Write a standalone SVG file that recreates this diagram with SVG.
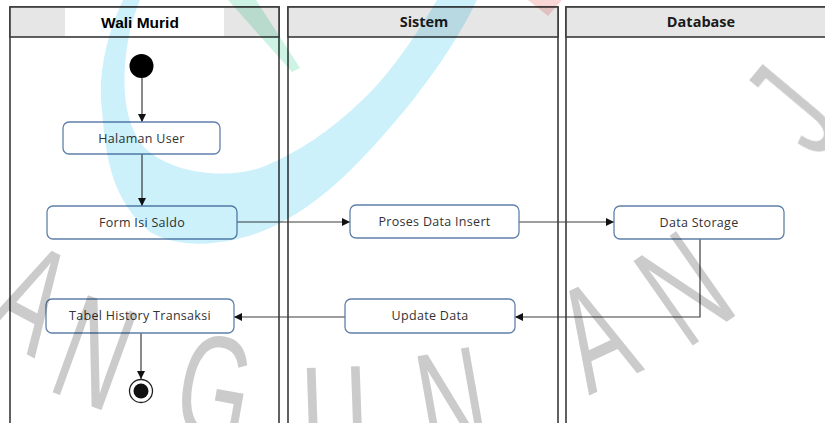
<svg xmlns="http://www.w3.org/2000/svg" width="825" height="423" viewBox="0 0 825 423">
  <defs>
    <marker id="arrow" viewBox="0 0 10 10" refX="10" refY="5" markerWidth="8" markerHeight="8" markerUnits="userSpaceOnUse" orient="auto">
      <path d="M0,0 L10,5 L0,10 Z" fill="#111"/>
    </marker>
    <style>
      .lane { fill: #ffffff; stroke: #3a3a3a; stroke-width: 1.6; }
      .head { fill: #e6e6e6; stroke: #3a3a3a; stroke-width: 1.6; }
      .htxt { font-family: "Open Sans", "Liberation Sans", sans-serif; font-weight: bold; font-size: 14.5px; fill: #1a1a1a; text-anchor: middle; }
      .node rect { fill: #ffffff; stroke: #5f80aa; stroke-width: 1.3; }
      .node text { font-family: "Open Sans", "Liberation Sans", sans-serif; font-size: 12.5px; fill: #333333; text-anchor: middle; letter-spacing: 0.3px; }
      .conn { fill: none; stroke: #3c3c3c; stroke-width: 1.2; }
      .wm text { font-family: "Liberation Sans", sans-serif; font-size: 150px; fill: #cbcbcb; text-anchor: middle; dominant-baseline: central; }
    </style>
  </defs>

  <rect x="0" y="0" width="825" height="423" fill="#ffffff"/>

  <!-- Swimlanes -->
  <g id="lane-wali-murid">
    <rect class="lane" x="10" y="7" width="269" height="430"/>
    <rect class="head" x="10" y="7" width="269" height="30"/>
    <rect x="65" y="8" width="159" height="28" fill="#ffffff"/>
    <text x="140" y="28" font-family="Liberation Sans, Arial, sans-serif" font-weight="bold" font-size="15.5" fill="#000" text-anchor="middle">Wali Murid</text>
  </g>
  <g id="lane-sistem">
    <rect class="lane" x="288" y="7" width="270" height="430"/>
    <rect class="head" x="288" y="7" width="270" height="30"/>
    <text class="htxt" x="424" y="27">Sistem</text>
  </g>
  <g id="lane-database">
    <rect class="lane" x="566" y="7" width="272" height="430"/>
    <rect class="head" x="566" y="7" width="272" height="30"/>
    <text class="htxt" x="701" y="27">Database</text>
  </g>

  <!-- Connectors -->
  <g id="connectors">
    <path class="conn" d="M142,78 L142,122" marker-end="url(#arrow)"/>
    <path class="conn" d="M142,154 L142,206" marker-end="url(#arrow)"/>
    <path class="conn" d="M237,222 L350,222" marker-end="url(#arrow)"/>
    <path class="conn" d="M519,222 L614,222" marker-end="url(#arrow)"/>
    <path class="conn" d="M700,239 L700,317 L515,317" stroke="#666" marker-end="url(#arrow)"/>
    <path class="conn" d="M345,317 L234,317" marker-end="url(#arrow)"/>
    <path class="conn" d="M141,333 L141,379" marker-end="url(#arrow)"/>
  </g>

  <!-- Nodes -->
  <g id="start">
    <circle cx="141.5" cy="66" r="12" fill="#000"/>
  </g>
  <g id="halaman-user" class="node">
    <rect x="63" y="122" width="157" height="32" rx="6"/>
    <text x="141.5" y="142.5">Halaman User</text>
  </g>
  <g id="form-isi-saldo" class="node">
    <rect x="47" y="206" width="190" height="33" rx="6"/>
    <text x="142" y="226.5">Form Isi Saldo</text>
  </g>
  <g id="tabel-history" class="node">
    <rect x="46" y="299" width="188" height="34" rx="6"/>
    <text x="140" y="320">Tabel History Transaksi</text>
  </g>
  <g id="proses-data-insert" class="node">
    <rect x="350" y="205" width="169" height="33" rx="6"/>
    <text x="434.5" y="226">Proses Data Insert</text>
  </g>
  <g id="update-data" class="node">
    <rect x="345" y="299" width="170" height="34" rx="6"/>
    <text x="430" y="319.5">Update Data</text>
  </g>
  <g id="data-storage" class="node">
    <rect x="614" y="206" width="170" height="33" rx="6"/>
    <text x="699" y="226.5">Data Storage</text>
  </g>
  <g id="end">
    <circle cx="141" cy="391" r="11.5" fill="#fff" stroke="#222" stroke-width="1.3"/>
    <circle cx="141" cy="391" r="7.5" fill="#111"/>
  </g>

  <!-- Watermark -->
  <g id="watermark" style="mix-blend-mode:multiply">
    <path d="M123,0 C104,40 98,80 102,110 C106,160 112,200 150,232 C180,250 230,246 270,228 C320,205 360,165 413,100 C440,65 460,35 477,0 L437,0 C410,45 385,80 357,105 C330,130 300,152 260,168 C220,180 170,172 145,148 C125,125 122,90 126,55 C129,30 134,15 140,0 Z" fill="#cdf1fb"/>
    <path d="M228,0 L256,0 L300,68 L292,72 Z" fill="#cdf3e4"/>
    <path d="M528,0 L562,0 L548,16 Z" fill="#f9d6d6"/>
    <g class="wm">
      <text transform="translate(32,298) rotate(28) scale(0.62,1)">A</text>
      <text transform="translate(95,352) rotate(20) scale(0.62,1)">N</text>
      <text transform="translate(215,388) rotate(10) scale(0.62,1)">G</text>
      <text transform="translate(335,418) rotate(-2) scale(0.62,1)">U</text>
      <text transform="translate(452,402) rotate(-10) scale(0.62,1)">N</text>
      <text transform="translate(595,335) rotate(-25) scale(0.62,1)">A</text>
      <text transform="translate(684,288) rotate(-35) scale(0.62,1)">N</text>
      <text transform="translate(792,110) rotate(-50) scale(0.62,1)">J</text>
    </g>
  </g>
</svg>
